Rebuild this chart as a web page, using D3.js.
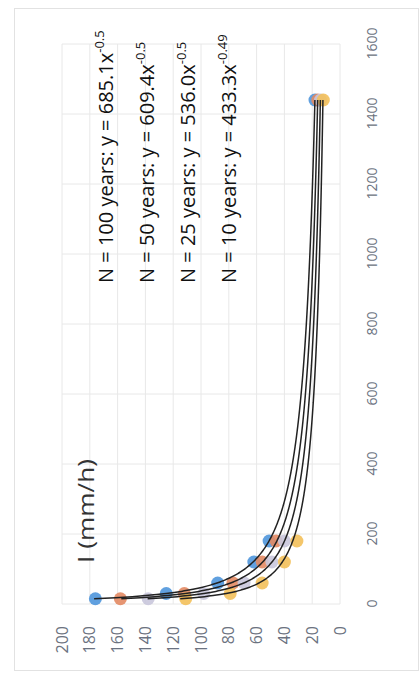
<!DOCTYPE html>
<html>
<head>
<meta charset="utf-8">
<script src="https://cdn.jsdelivr.net/npm/d3@7"></script>
<style>
  body { margin: 0; background: #fff; }
  text { font-family: "Open Sans", "Liberation Sans", sans-serif; }
</style>
</head>
<body>
<div id="chart"></div>
<script>
// durations (min) and rainfall intensity I (mm/h)
const durations = [15, 30, 60, 120, 180, 1440];
const seriesNames = ["N = 100 years", "N = 50 years", "N = 25 years", "N = 10 years"];
const i100 = [176, 125, 88, 62, 51, 18];
const i50 = [158, 112, 77, 56, 46, 16];
const i25 = [138, 98, 69, 49, 40, 14];
const i10 = [111, 79, 56, 40, 31, 12];
// trendline y = a * x^b
const coefA = [685.1, 609.4, 536.0, 433.3];
const coefB = [-0.5, -0.5, -0.5, -0.49];
const eqLabels = ["685.1x", "609.4x", "536.0x", "433.3x"];
const eqExps = ["-0.5", "-0.5", "-0.5", "-0.49"];
const xTicks = [0, 200, 400, 600, 800, 1000, 1200, 1400, 1600];
const yTicks = [0, 20, 40, 60, 80, 100, 120, 140, 160, 180, 200];
const colors = ["#4f96db", "#e38a63", "#c9c6dc", "#f3c05a"];

const width = 420, height = 677;
const plotW = 560, plotH = 278; // unrotated plot size

let svg = d3.select("#chart").append("svg")
  .attr("width", width).attr("height", height);

// chart frame
svg.append("rect")
  .attr("x", 14.5).attr("y", 8.5).attr("width", 404).attr("height", 662)
  .attr("fill", "#fff").attr("stroke", "#e2e2e2");

// the whole chart is drawn turned a quarter turn counter-clockwise
let g = svg.append("g").attr("transform", "translate(62,604) rotate(-90)");

let xScale = d3.scaleLinear().domain([0, 1600]).range([0, plotW]);
let yScale = d3.scaleLinear().domain([0, 200]).range([plotH, 0]);

// grid
g.append("g").selectAll("line").data(xTicks).enter().append("line")
  .attr("x1", d => xScale(d)).attr("x2", d => xScale(d))
  .attr("y1", 0).attr("y2", plotH)
  .attr("stroke", "#e8e8e8");
g.append("g").selectAll("line").data(yTicks).enter().append("line")
  .attr("x1", 0).attr("x2", plotW)
  .attr("y1", d => yScale(d)).attr("y2", d => yScale(d))
  .attr("stroke", "#e8e8e8");

// axes
let xAxis = d3.axisBottom(xScale).tickValues(xTicks).tickFormat(d3.format("d"))
  .tickSize(0).tickPadding(27);
let gx = g.append("g").attr("transform", "translate(0," + plotH + ")").call(xAxis);
let yAxis = d3.axisLeft(yScale).tickValues(yTicks).tickFormat(d3.format("d"))
  .tickSize(0).tickPadding(22);
let gy = g.append("g").call(yAxis);
[gx, gy].forEach(a => {
  a.select(".domain").remove();
  a.selectAll("text").attr("fill", "#6b7280")
    .style("font-family", "'Open Sans', sans-serif");
});
gx.selectAll("text").style("font-size", "14px");
gy.selectAll("text").style("font-size", "16px");

// points
const allSeries = [i100, i50, i25, i10];
allSeries.forEach((vals, s) => {
  g.append("g").selectAll("circle").data(vals).enter().append("circle")
    .attr("cx", (d, i) => xScale(durations[i]))
    .attr("cy", d => yScale(d))
    .attr("r", 6.5)
    .attr("fill", colors[s])
    .attr("opacity", 0.9);
});

// power trendlines
let line = d3.line().x(d => xScale(d[0])).y(d => yScale(d[1])).curve(d3.curveMonotoneX);
coefA.forEach((a, s) => {
  let pts = d3.range(15, 1441, 3).map(x => [x, a * Math.pow(x, coefB[s])]);
  g.append("path").datum(pts)
    .attr("d", line)
    .attr("fill", "none")
    .attr("stroke", "#222")
    .attr("stroke-width", 1.5);
});

// equation labels
seriesNames.forEach((name, s) => {
  let t = g.append("text")
    .attr("x", 321).attr("y", 51 + s * 41)
    .attr("fill", "#111").style("font-size", "20px");
  t.append("tspan").text(name + ": y = " + eqLabels[s]);
  t.append("tspan").attr("dy", -9).style("font-size", "13px").text(eqExps[s]);
});

// title
g.append("text").attr("x", 41).attr("y", 32)
  .attr("fill", "#333").style("font-size", "22px")
  .attr("textLength", 104).attr("lengthAdjust", "spacingAndGlyphs")
  .text("I (mm/h)");
</script>
</body>
</html>
